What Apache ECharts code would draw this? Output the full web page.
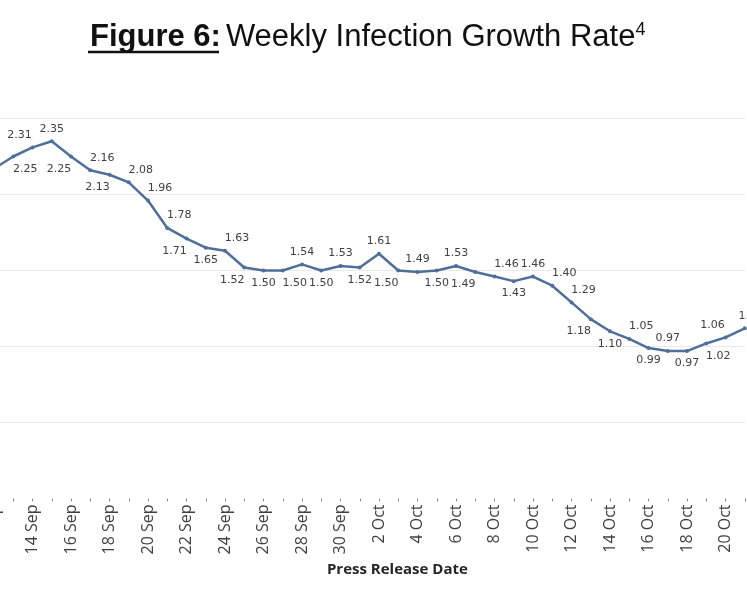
<!DOCTYPE html>
<html>
<head>
<meta charset="utf-8">
<script src="https://cdn.jsdelivr.net/npm/echarts@6/dist/echarts.min.js"></script>
<style>
  html, body { margin: 0; padding: 0; background: #fff; overflow: hidden; }
  #chart { width: 747px; height: 598px; }
</style>
</head>
<body>
<div id="chart"></div>
<script>
// press release dates, one point per day
const releaseDates = [
  '12 Sep', '13 Sep', '14 Sep', '15 Sep', '16 Sep', '17 Sep', '18 Sep', '19 Sep', '20 Sep', '21 Sep',
  '22 Sep', '23 Sep', '24 Sep', '25 Sep', '26 Sep', '27 Sep', '28 Sep', '29 Sep', '30 Sep',
  '1 Oct', '2 Oct', '3 Oct', '4 Oct', '5 Oct', '6 Oct', '7 Oct', '8 Oct', '9 Oct', '10 Oct',
  '11 Oct', '12 Oct', '13 Oct', '14 Oct', '15 Oct', '16 Oct', '17 Oct', '18 Oct', '19 Oct', '20 Oct', '21 Oct'
]
const growthRate = [
  2.17, 2.25, 2.31, 2.35, 2.25, 2.16, 2.13, 2.08, 1.96, 1.78,
  1.71, 1.65, 1.63, 1.52, 1.50, 1.50, 1.54, 1.50, 1.53,
  1.52, 1.61, 1.50, 1.49, 1.50, 1.53, 1.49, 1.46, 1.43, 1.46,
  1.40, 1.29, 1.18, 1.10, 1.05, 0.99, 0.97, 0.97, 1.02, 1.06, 1.12
]
const yTicks = [0, 0.5, 1, 1.5, 2, 2.5]

// where each data label sits (like the excel "best fit" placement)
const labelSpots = [
  'none', 'br', 'tl', 't', 'bl', 'tr', 'bl', 'tr', 'tr', 'tr',
  'bl', 'b', 'tr', 'bl', 'b', 'br', 't', 'b', 't',
  'b', 't', 'bl', 't', 'b', 't', 'bl', 'tr', 'b', 't',
  'tr', 'tr', 'bl', 'b', 'tr', 'b', 't', 'b', 'br', 'tl', 'te'
]
const spotStyle = {
  t: { position: 'top', offset: [0, 0] },
  tr: { position: 'top', offset: [12, 0] },
  te: { position: 'top', offset: [6, 0] },
  tl: { position: 'top', offset: [-13, 0] },
  b: { position: 'bottom', offset: [0, 0] },
  br: { position: 'bottom', offset: [12, 0] },
  bl: { position: 'bottom', offset: [-12, 0] }
}

const lineColor = '#4f6f9a'
const gridColor = '#e9e9e9'
const chart = echarts.init(document.getElementById('chart'))

const seriesData = growthRate.map((v, i) => {
  const spot = labelSpots[i]
  if (spot === 'none') return { value: v, label: { show: false } }
  return { value: v, label: spotStyle[spot] }
})

const option = {
  backgroundColor: '#fff',
  animation: false,
  title: {
    left: 85,
    top: 16,
    text: '{b|Figure 6:} {r|Weekly Infection Growth Rate}{s|4}',
    textStyle: {
      rich: {
        b: { fontFamily: 'Liberation Sans', fontSize: 31, fontWeight: 'bold', color: '#111' },
        r: { fontFamily: 'Liberation Sans', fontSize: 31, fontWeight: 'normal', color: '#111' },
        s: { fontFamily: 'Liberation Sans', fontSize: 18, fontWeight: 'normal', color: '#111', padding: [0, 0, 14, 0] }
      }
    }
  },
  graphic: [
    {
      type: 'line',
      shape: { x1: 88, y1: 52, x2: 219, y2: 52 },
      style: { stroke: '#111', lineWidth: 2.5 }
    }
  ],
  grid: {
    left: -6,
    right: 2.25,
    top: 118.5,
    bottom: 99.5,
    outerBoundsMode: 'none'
  },
  xAxis: {
    type: 'category',
    data: releaseDates,
    boundaryGap: false,
    name: 'Press Release Date',
    nameLocation: 'middle',
    nameGap: 62,
    nameTextStyle: {
      fontFamily: 'Open Sans',
      fontSize: 15,
      fontWeight: 'bold',
      color: '#262626',
      padding: [0, 0, 0, 56]
    },
    axisLine: { show: false },
    axisTick: { show: true, interval: 0, length: 3, lineStyle: { color: '#8c8c8c' } },
    axisLabel: {
      interval: 1,
      rotate: 90,
      margin: 6,
      fontFamily: 'Open Sans',
      fontSize: 16,
      color: '#404040'
    }
  },
  yAxis: {
    type: 'value',
    min: yTicks[0],
    max: yTicks[yTicks.length - 1],
    interval: yTicks[1] - yTicks[0],
    axisLabel: { show: false },
    axisLine: { show: false },
    axisTick: { show: false },
    // no line at zero, only the faint gridlines above it
    splitLine: {
      lineStyle: {
        color: ['rgba(0,0,0,0)', gridColor, gridColor, gridColor, gridColor, gridColor],
        width: 1
      }
    }
  },
  series: [
    {
      type: 'line',
      data: seriesData,
      symbol: 'circle',
      symbolSize: 4,
      lineStyle: { color: lineColor, width: 2.5 },
      itemStyle: { color: lineColor },
      label: {
        show: true,
        distance: 5,
        fontFamily: 'DejaVu Sans',
        fontSize: 11,
        color: '#404040',
        formatter: p => p.value.toFixed(2)
      }
    }
  ]
}

chart.setOption(option)
</script>
</body>
</html>
